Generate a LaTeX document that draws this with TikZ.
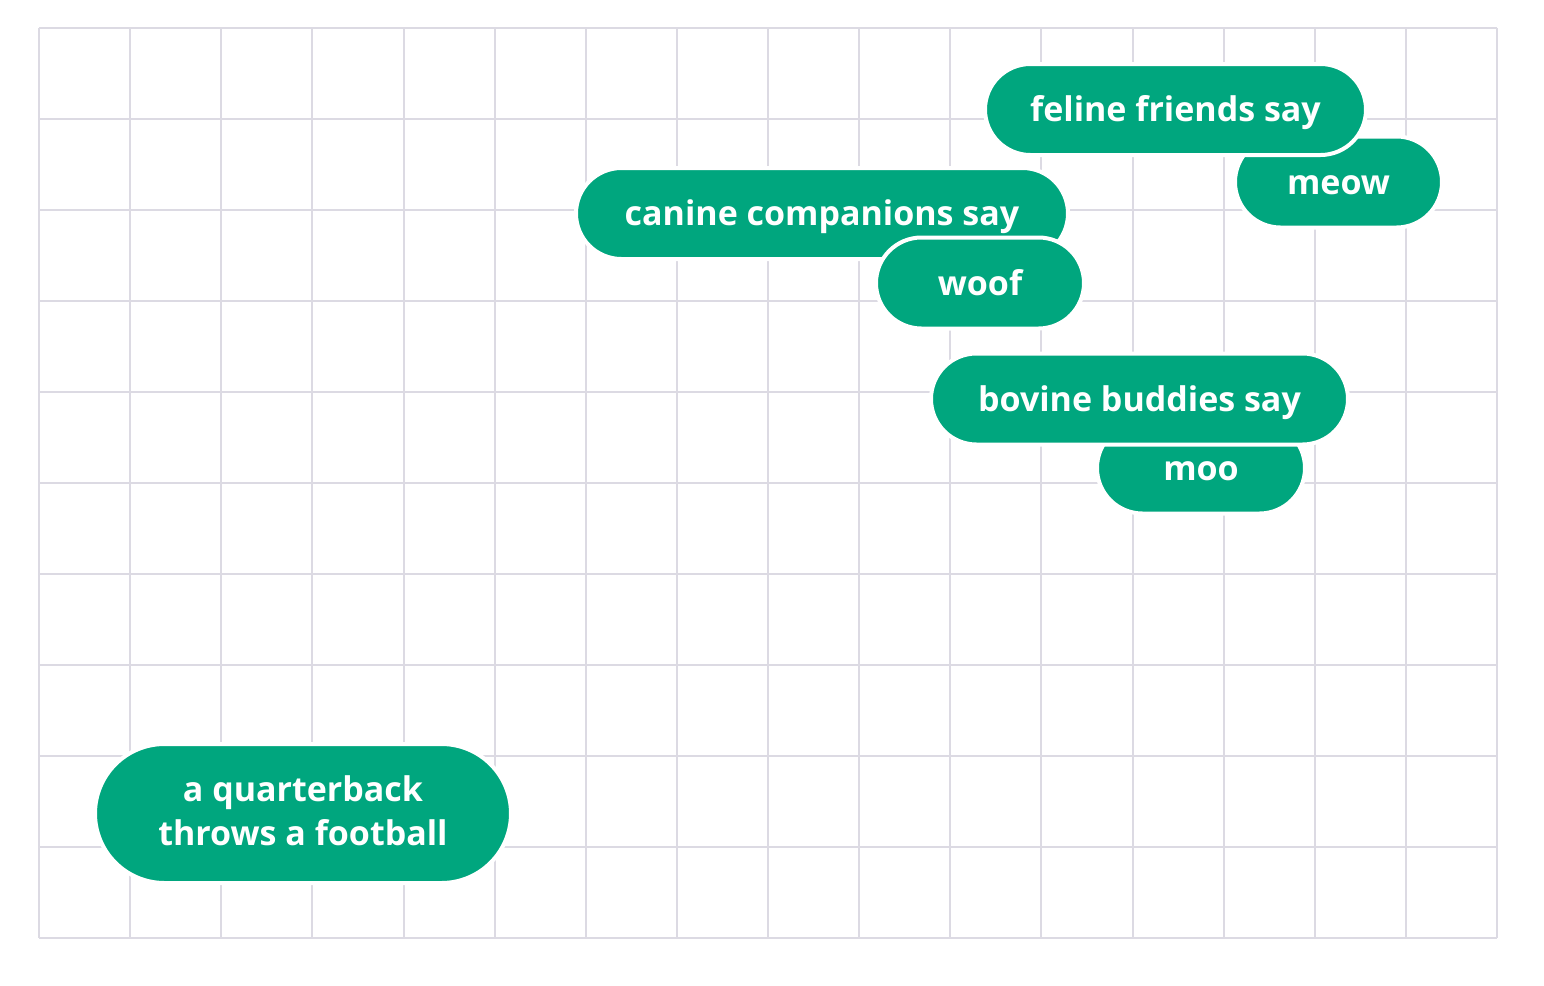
\documentclass[tikz,border=0pt]{standalone}
\usepackage{fontspec}
\setmainfont{Open Sans}
\begin{document}
\begin{tikzpicture}[x=0.5pt,y=-0.5pt,
  gridline/.style={draw=gridc, line width=1pt},
  pill/.style={fill=pillc, draw=white, line width=2pt, rounded corners=22.75pt, inner sep=0pt, minimum height=45.5pt, text height=12.4pt, text depth=0pt, text=white, font=\fontsize{17}{21.7}\selectfont\bfseries, align=center},
  bigpill/.style={pill, rounded corners=34.75pt, minimum height=69.5pt, text height=31.5pt, text depth=0pt}]
\definecolor{gridc}{HTML}{DCDAE3}
\definecolor{pillc}{HTML}{00A67E}
\useasboundingbox (0,0) rectangle (1544,986);
\fill[white] (0,0) rectangle (1544,986);
\foreach \i in {0,...,16} \draw[gridline] (39+\i*91.125,28) -- (39+\i*91.125,938);
\foreach \j in {0,...,10} \draw[gridline] (39,28+\j*91) -- (1497,28+\j*91);
\node[pill, minimum width=246pt] (canine) at (822,213.5) {canine companions say};
\node[pill, minimum width=104pt] (woof) at (980,283) {woof};
\node[pill, minimum width=104pt] (moo) at (1201,468) {moo};
\node[pill, minimum width=208.5pt] (bovine) at (1139.5,399) {bovine buddies say};
\node[pill, minimum width=103.5pt] (meow) at (1338.5,182) {meow};
\node[pill, minimum width=190.5pt] (feline) at (1175.5,109.5) {feline friends say};
\node[bigpill, minimum width=208pt] (qb) at (303,813.5) {a quarterback\\throws a football};
\end{tikzpicture}
\end{document}
